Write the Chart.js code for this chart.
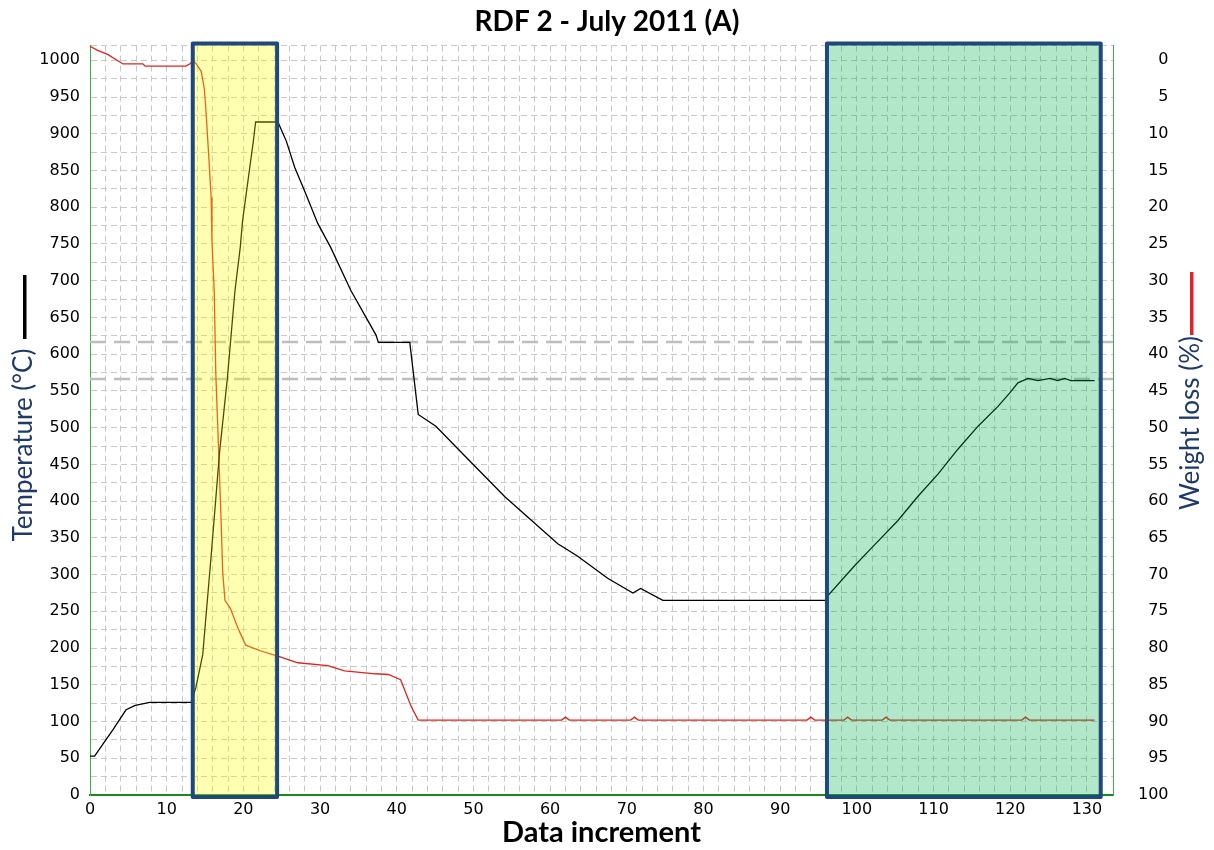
<!DOCTYPE html>
<html>
<head>
<meta charset="utf-8">
<title>RDF 2 - July 2011 (A)</title>
<script src="https://cdn.jsdelivr.net/npm/chart.js@4.4.0/dist/chart.umd.min.js"></script>
<style>
  html, body { margin: 0; padding: 0; background: #fff; }
</style>
</head>
<body>
<canvas id="canvasRdf" width="1214" height="850"></canvas>
<script>
// temperature trace (left axis, degC)
var tempX = [0, 0.6, 2, 3, 4.7, 5.9, 7.8, 13.2, 13.8, 14.7, 15.8, 16.9, 17.9, 18.9, 19.6, 19.9, 20.6, 21.3, 21.6, 24.5,
  25.6, 26.7, 27.8, 29.7, 31.4, 34, 37.3, 37.6, 41.7, 42.8, 45.1, 49.3, 54.1, 61, 63.6, 67.5, 70.8, 71.8, 74.7, 96,
  96.2, 99.7, 101.8, 105.3, 108, 110.6, 113.2, 115.8, 118.4, 120, 121, 122.3, 123.6, 125.2, 126.2, 127.1, 127.9, 131];
var tempY = [53, 53, 74, 89, 116, 122, 126, 126, 146, 191, 326, 467, 566, 686, 746, 782, 836, 890, 916, 916,
  890, 854, 827, 778, 745, 687, 626, 616, 616, 518, 502, 457, 406, 342, 325, 295, 275, 281, 265, 265,
  271, 312, 335, 373, 407, 437, 471, 502, 529, 548, 561, 567, 564, 567, 564, 567, 564, 564];

// weight loss trace (right axis, %)
var lossX = [0, 1, 2.3, 4.3, 6.9, 7.2, 12.5, 13, 13.4, 13.8, 14.5, 14.9, 15.1, 15.5, 15.8, 15.9, 16.2, 16.4, 16.8, 17.1,
  17.3, 17.6, 18.3, 19.3, 20.3, 22.3, 24.5, 27.1, 31, 33.2, 37.2, 38.9, 40.5, 41.9, 42.8, 61.5, 62, 62.5,
  70.5, 71, 71.5, 93.5, 94, 94.5, 98.3, 98.8, 99.3, 103.3, 103.8, 104.3, 121.5, 122, 122.5, 131];
var lossY = [-1.9, -1.35, -0.8, 0.5, 0.5, 0.8, 0.8, 0.5, 0.1, 0.4, 1.5, 3.8, 6.5, 13.3, 18.7, 24.5, 31.5, 42.5, 53.9, 62.8,
  69.6, 73.5, 74.6, 77.3, 79.6, 80.4, 81.1, 82, 82.4, 83.1, 83.5, 83.6, 84.3, 88, 89.8, 89.8, 89.4, 89.8,
  89.8, 89.4, 89.8, 89.8, 89.4, 89.8, 89.8, 89.4, 89.8, 89.8, 89.4, 89.8, 89.8, 89.4, 89.8, 89.8];

// tick values
var tempTicks = [];
for (var t = 0; t <= 1000; t += 25) tempTicks.push(t);
var lossTicks = [0, 5, 10, 15, 20, 25, 30, 35, 40, 45, 50, 55, 60, 65, 70, 75, 80, 85, 90, 95, 100];

// shaded phases on the x axis
var highlightStart = [13.4, 96.1];
var highlightEnd = [24.4, 131.8];
var highlightFill = ['rgba(255, 255, 0, 0.3)', 'rgba(0, 176, 80, 0.3)'];

// the two darker dashed temperature lines
var refTemps = [616, 566];

function toPoints(xs, ys) {
  var pts = [];
  for (var i in xs) {
    pts.push({ x: xs[i], y: ys[i] });
  }
  return pts;
}

function asTicks(vals) {
  return vals.map(function(v) { return { value: v }; });
}

var boxPlugin = {
  id: 'boxes',
  beforeDatasetsDraw: function(chart) {
    var ctx = chart.ctx;
    var area = chart.chartArea;
    ctx.save();
    ctx.strokeStyle = '#bdbdbd';
    ctx.lineWidth = 2.5;
    ctx.setLineDash([16, 8]);
    for (var i in refTemps) {
      var y = Math.round(chart.scales.y.getPixelForValue(refTemps[i]));
      ctx.beginPath();
      ctx.moveTo(area.left, y);
      ctx.lineTo(area.right, y);
      ctx.stroke();
    }
    ctx.restore();
  },
  afterDatasetsDraw: function(chart) {
    var ctx = chart.ctx;
    var area = chart.chartArea;
    var xs = chart.scales.x;
    ctx.save();
    for (var i in highlightStart) {
      var x1 = xs.getPixelForValue(highlightStart[i]);
      var x2 = xs.getPixelForValue(highlightEnd[i]);
      var top = area.top - 2;
      var bottom = area.bottom + 2;
      ctx.fillStyle = highlightFill[i];
      ctx.fillRect(x1, top, x2 - x1, bottom - top);
      ctx.strokeStyle = '#1f497d';
      ctx.lineWidth = 4;
      ctx.lineJoin = 'round';
      ctx.strokeRect(x1, top, x2 - x1, bottom - top);
    }
    ctx.restore();
  },
  afterDraw: function(chart) {
    var ctx = chart.ctx;
    ctx.save();
    ctx.font = '26px Lato';
    ctx.fillStyle = '#1f3a68';
    ctx.textAlign = 'center';
    ctx.textBaseline = 'middle';

    ctx.save();
    ctx.translate(24, 445);
    ctx.rotate(-Math.PI / 2);
    ctx.fillText('Temperature (°C)', 0, 0);
    ctx.restore();

    ctx.save();
    ctx.translate(1191, 423);
    ctx.rotate(-Math.PI / 2);
    ctx.fillText('Weight loss (%)', 0, 0);
    ctx.restore();

    // legend bars next to the axis titles
    ctx.fillStyle = '#000';
    ctx.fillRect(23, 275, 3.5, 64);
    ctx.fillStyle = '#e8202a';
    ctx.fillRect(1190, 272, 3.5, 63);
    ctx.restore();
  }
};

var tickFont = { family: 'DejaVu Sans', size: 16 };

var ctx = document.getElementById('canvasRdf');

var rdfChart = new Chart(ctx, {
  type: 'line',
  data: {
    datasets: [
      {
        label: 'Temperature',
        data: toPoints(tempX, tempY),
        yAxisID: 'y',
        borderColor: '#000000',
        borderWidth: 1.3,
        pointRadius: 0,
        fill: false,
        tension: 0
      },
      {
        label: 'Weight loss',
        data: toPoints(lossX, lossY),
        yAxisID: 'y1',
        borderColor: '#e3221b',
        borderWidth: 1.3,
        pointRadius: 0,
        fill: false,
        tension: 0
      }
    ]
  },
  options: {
    responsive: false,
    animation: false,
    devicePixelRatio: 1,
    layout: { padding: 0 },
    plugins: {
      legend: { display: false },
      tooltip: { enabled: false },
      title: {
        display: true,
        text: 'RDF 2 - July 2011 (A)',
        color: '#000',
        font: { family: 'Lato', size: 28, weight: 'bold' },
        padding: { top: 5, bottom: 7 }
      }
    },
    scales: {
      x: {
        type: 'linear',
        min: 0,
        max: 133.4,
        afterFit: function(s) { s.height = 55; },
        grid: { color: '#c8c8c8', drawTicks: false },
        border: { color: '#1a8a1a', width: 2, dash: [6, 4] },
        ticks: {
          stepSize: 2,
          autoSkip: false,
          maxRotation: 0,
          padding: 5,
          color: '#000',
          font: tickFont,
          callback: function(v) { return v % 10 === 0 ? v : ''; }
        },
        title: {
          display: true,
          text: 'Data increment',
          color: '#000',
          font: { family: 'Lato', size: 29, weight: 'bold' },
          padding: { top: 0, bottom: 0 }
        }
      },
      y: {
        position: 'left',
        min: 0,
        max: 1020,
        afterFit: function(s) { s.width = 90; },
        afterBuildTicks: function(s) { s.ticks = asTicks(tempTicks.concat([1020])); },
        grid: { color: '#c8c8c8', drawTicks: false },
        border: { color: '#3cb043', width: 1, dash: [6, 4] },
        ticks: {
          autoSkip: false,
          padding: 10,
          color: '#000',
          font: tickFont,
          callback: function(v) { return v % 50 === 0 ? v : ''; }
        }
      },
      y1: {
        position: 'right',
        reverse: true,
        min: -2,
        max: 100,
        afterFit: function(s) { s.width = 101; },
        afterBuildTicks: function(s) { s.ticks = asTicks(lossTicks); },
        grid: { drawOnChartArea: false, drawTicks: false },
        border: { color: '#3cb043', width: 1 },
        ticks: {
          autoSkip: false,
          padding: 25,
          color: '#000',
          font: tickFont,
          callback: function(v) { return String(v).padStart(3, '\u2007'); }
        }
      }
    }
  },
  plugins: [boxPlugin]
});
</script>
</body>
</html>
